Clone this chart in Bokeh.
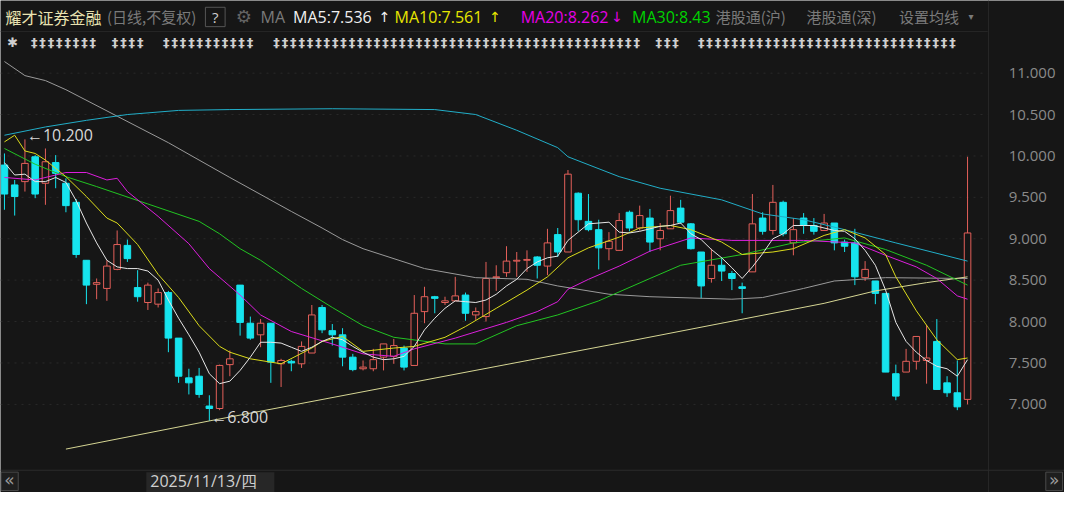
from bokeh.plotting import figure
from bokeh.models import (Label, Span, FixedTicker, PrintfTickFormatter, ColumnDataSource,
                          Range1d, LinearAxis)
from bokeh.core.properties import value
from bokeh.embed import file_html
from bokeh.resources import INLINE

# ---------------- data ----------------
stock_name = "耀才证券金融"
period_note = "(日线,不复权)"
date_text = "2025/11/13/四"
extra_tabs = ["港股通(沪)", "港股通(深)", "设置均线"]

opens = [9.89, 9.65, 9.69, 9.99, 9.67, 9.92, 9.67, 9.44, 8.74, 8.45,
         8.40, 8.63, 8.92, 8.41, 8.23, 8.21, 8.35, 7.80, 7.32, 7.34,
         6.98, 6.95, 7.48, 8.44, 7.98, 7.84, 7.98, 7.49, 7.52, 7.49,
         7.62, 8.17, 7.89, 7.84, 7.57, 7.43, 7.43, 7.57, 7.58, 7.68,
         7.47, 8.12, 8.30, 8.23, 8.25, 8.32, 8.08, 8.06, 8.53, 8.59,
         8.73, 8.74, 8.78, 8.67, 9.05, 8.84, 9.55, 9.21, 9.11, 8.88,
         8.86, 9.32, 9.13, 9.25, 9.00, 9.12, 9.37, 9.18, 8.84, 8.52,
         8.68, 8.58, 8.42, 8.60, 9.25, 9.10, 9.44, 8.95, 9.25, 9.16,
         9.10, 9.19, 8.96, 8.95, 8.53, 8.49, 8.34, 7.37, 7.39, 7.52,
         7.53, 7.76, 7.26, 7.14, 7.06]
highs = [10.03, 9.71, 10.20, 10.01, 10.09, 10.01, 9.73, 9.48, 8.74, 8.52,
         8.74, 9.10, 8.99, 8.62, 8.47, 8.40, 8.37, 7.80, 7.43, 7.44,
         7.11, 7.48, 7.65, 8.44, 8.06, 8.03, 7.98, 7.55, 7.54, 7.76,
         8.20, 8.20, 7.97, 7.92, 7.61, 7.53, 7.67, 7.73, 7.79, 7.71,
         8.32, 8.42, 8.31, 8.30, 8.54, 8.35, 8.17, 8.72, 8.68, 8.91,
         8.84, 8.86, 8.79, 9.12, 9.13, 9.83, 9.56, 9.54, 9.23, 9.08,
         9.31, 9.34, 9.40, 9.36, 9.19, 9.52, 9.47, 9.19, 8.84, 8.88,
         8.78, 8.61, 8.47, 9.54, 9.32, 9.65, 9.46, 9.25, 9.31, 9.25,
         9.30, 9.19, 8.99, 9.12, 8.73, 8.49, 8.34, 7.48, 7.67, 7.82,
         7.96, 8.03, 7.34, 7.53, 9.99]
lows = [9.35, 9.28, 9.57, 9.49, 9.41, 9.61, 9.32, 8.77, 8.21, 8.27,
        8.25, 8.62, 8.72, 8.24, 8.14, 8.17, 7.63, 7.26, 7.12, 7.08,
        6.80, 6.93, 7.34, 7.83, 7.78, 7.69, 7.26, 7.21, 7.40, 7.44,
        7.62, 7.86, 7.71, 7.46, 7.40, 7.41, 7.40, 7.41, 7.49, 7.41,
        7.47, 7.98, 8.10, 8.20, 8.25, 8.01, 8.02, 8.00, 8.37, 8.54,
        8.54, 8.60, 8.52, 8.56, 8.78, 8.84, 9.09, 9.09, 8.63, 8.74,
        8.86, 9.09, 9.10, 8.84, 8.86, 9.12, 9.18, 8.87, 8.28, 8.47,
        8.49, 8.38, 8.10, 8.60, 9.05, 9.05, 9.03, 8.80, 9.06, 9.05,
        9.10, 8.86, 8.84, 8.44, 8.49, 8.21, 7.39, 7.05, 7.39, 7.42,
        7.25, 7.18, 7.09, 6.93, 7.00]
closes = [9.54, 9.51, 9.91, 9.54, 9.93, 9.79, 9.40, 8.81, 8.44, 8.47,
          8.67, 8.93, 8.76, 8.30, 8.44, 8.35, 7.80, 7.34, 7.26, 7.12,
          6.95, 7.47, 7.55, 7.99, 7.80, 7.98, 7.51, 7.53, 7.50, 7.70,
          8.08, 7.90, 7.84, 7.57, 7.42, 7.45, 7.54, 7.73, 7.71, 7.45,
          8.10, 8.30, 8.28, 8.25, 8.31, 8.10, 8.12, 8.52, 8.54, 8.73,
          8.74, 8.75, 8.68, 8.95, 8.84, 9.78, 9.23, 9.11, 8.89, 8.97,
          9.22, 9.13, 9.28, 8.96, 9.10, 9.34, 9.20, 8.88, 8.43, 8.68,
          8.61, 8.52, 8.40, 9.18, 9.09, 9.44, 9.06, 9.11, 9.16, 9.09,
          9.19, 8.95, 8.91, 8.54, 8.63, 8.34, 7.39, 7.10, 7.52, 7.82,
          7.56, 7.18, 7.14, 6.97, 9.07]

# moving-average lines, read as (candle index, value) samples
ma5_val = [9.92, 9.77, 9.78, 9.69, 9.69, 9.74, 9.68, 9.46, 9.19, 8.95,
           8.74, 8.66, 8.64, 8.64, 8.61, 8.50, 8.26, 8.04, 7.84, 7.63,
           7.37, 7.25, 7.28, 7.41, 7.57, 7.75, 7.75, 7.74, 7.69, 7.64,
           7.69, 7.76, 7.81, 7.78, 7.70, 7.63, 7.57, 7.54, 7.55, 7.58,
           7.70, 7.90, 8.04, 8.16, 8.25, 8.24, 8.23, 8.26, 8.33, 8.43,
           8.51, 8.64, 8.72, 8.77, 8.79, 8.98, 9.08, 9.18, 9.19, 9.20,
           9.08, 9.07, 9.09, 9.12, 9.15, 9.16, 9.19, 9.06, 8.99, 8.87,
           8.77, 8.65, 8.52, 8.66, 8.82, 9.00, 9.06, 9.16, 9.16, 9.16,
           9.13, 9.10, 9.09, 9.00, 8.86, 8.68, 8.38, 7.99, 7.76, 7.63,
           7.53, 7.46, 7.43, 7.34, 7.54]
ma5_idx = list(range(len(ma5_val)))

ma10_idx = [0, 1, 2, 3, 4, 6, 8, 10, 11, 13, 15, 17, 19, 21, 22, 24, 27, 30, 31, 33,
            35, 38, 40, 43, 45, 48, 51, 53, 55, 57, 60, 62, 65, 67, 70, 72, 75, 77, 80,
            82, 84, 86, 87, 89, 91, 93, 94]
ma10_val = [10.17, 10.25, 10.06, 10.03, 9.95, 9.75, 9.51, 9.25, 9.19, 8.93, 8.57, 8.29,
            7.95, 7.70, 7.63, 7.55, 7.49, 7.68, 7.76, 7.82, 7.64, 7.68, 7.70, 7.81, 7.94,
            8.16, 8.38, 8.54, 8.77, 8.89, 9.02, 9.13, 9.16, 9.11, 8.96, 8.81, 8.84, 8.88,
            9.04, 9.11, 9.01, 8.81, 8.54, 8.13, 7.78, 7.54, 7.56]

ma20_idx = [0, 3, 6, 8, 10, 11, 12, 15, 18, 20, 23, 25, 28, 32, 35, 38, 40, 44, 49, 52,
            54, 55, 57, 60, 63, 67, 71, 78, 83, 86, 89, 91, 93, 94]
ma20_val = [9.74, 9.71, 9.80, 9.80, 9.71, 9.73, 9.57, 9.27, 8.94, 8.64, 8.32, 8.08, 7.88,
            7.73, 7.61, 7.58, 7.67, 7.80, 7.99, 8.12, 8.24, 8.39, 8.51, 8.67, 8.85, 9.01,
            8.98, 8.98, 8.95, 8.80, 8.66, 8.52, 8.31, 8.27]

ma30_idx = [0, 3, 6, 9, 14, 19, 21, 23, 25, 29, 32, 35, 38, 43, 46, 50, 54, 58, 63, 66,
            72, 77, 82, 86, 90, 94]
ma30_val = [10.09, 9.90, 9.75, 9.63, 9.42, 9.21, 9.06, 8.88, 8.74, 8.40, 8.17, 7.95, 7.81,
            7.73, 7.73, 7.95, 8.08, 8.25, 8.52, 8.68, 8.81, 8.95, 9.01, 8.87, 8.68, 8.44]

ma60_idx = [0, 4, 8, 12, 17, 22, 32, 42, 46, 50, 54, 55, 60, 64, 70, 74, 78, 82, 87, 94]
ma60_val = [10.25, 10.35, 10.43, 10.50, 10.55, 10.56, 10.57, 10.56, 10.50, 10.31, 10.10,
            9.99, 9.75, 9.61, 9.47, 9.30, 9.23, 9.11, 8.95, 8.73]

ma120_idx = [0, 2, 4, 6, 11, 16, 22, 28, 31, 33, 35, 41, 46, 51, 54, 59, 63, 71, 74, 78,
             81, 86, 94]
ma120_val = [11.14, 10.97, 10.91, 10.80, 10.48, 10.16, 9.74, 9.33, 9.13, 8.99, 8.88, 8.64,
             8.53, 8.51, 8.43, 8.33, 8.30, 8.27, 8.29, 8.40, 8.49, 8.53, 8.52]

ma250_idx = [6, 20, 40, 60, 80, 85, 90, 94]
ma250_val = [6.46, 6.80, 7.27, 7.74, 8.22, 8.37, 8.47, 8.54]

ma_names = ["MA5", "MA10", "MA20", "MA30"]
ma_last = [7.536, 7.561, 8.262, 8.43]
ma_arrow = ["↑", "↑", "↓", ""]

price_ticks = [7.0, 7.5, 8.0, 8.5, 9.0, 9.5, 10.0, 10.5, 11.0]

# ---------------- styles ----------------
BG = "#161616"
UP = "#e4605a"
DOWN = "#16e4ee"
C_MA5 = "#e6e6e6"
C_MA10 = "#dcdc1c"
C_MA20 = "#dc1edc"
C_MA30 = "#22c422"
C_MA60 = "#22aec8"
C_MA120 = "#9a9a9a"
C_MA250 = "#d6d694"
HEAD_MA = ["#f0f0f0", "#e6e600", "#e600e6", "#00d200"]
GREY_TXT = "#7a7a7a"

W, H = 1064, 492


def X(rx):  # layout helper: reference pixel -> candle-index units
    return (rx - 4) / 10.4


def Y(ry):  # layout helper: reference pixel -> price units
    return 11 - (ry - 75) / 85.5


p = figure(width=W, height=H, output_backend="svg", toolbar_location=None,
           x_range=Range1d(X(0), X(1080)), y_range=Range1d(Y(508), Y(0)),
           x_axis_location=None, y_axis_location=None,
           min_border_left=0, min_border_top=0, min_border_bottom=0, min_border_right=0,
           background_fill_color=BG, border_fill_color=BG, outline_line_color=None)
p.grid.visible = False

# price axis, drawn at the right edge of the chart area
yax = LinearAxis(fixed_location=X(1003), ticker=FixedTicker(ticks=price_ticks),
                 formatter=PrintfTickFormatter(format="%.3f"))
yax.major_label_text_color = "#8a8a8a"
yax.major_label_text_font = "Open Sans"
yax.major_label_text_font_size = "15px"
yax.major_label_standoff = 14
yax.axis_line_color = "#262626"
yax.major_tick_line_color = None
yax.minor_tick_line_color = None
p.add_layout(yax, "right")

# dotted price grid inside the chart area
p.segment(x0=[X(0)] * len(price_ticks), x1=[X(1002)] * len(price_ticks),
          y0=price_ticks, y1=price_ticks, line_color="#2a2a2a", line_width=1, line_dash="2 5")

# header separator and bottom line
p.segment(x0=[X(0)], x1=[X(1002)], y0=[Y(32)], y1=[Y(32)], line_color="#262626", line_width=1)
p.add_layout(Span(location=Y(485), dimension="width", line_color="#2c2c2c", line_width=1))

# ---------------- candles ----------------
n = len(opens)
up = [c >= o for o, c in zip(opens, closes)]
src = ColumnDataSource(dict(
    x=list(range(n)), high=highs, low=lows,
    top=[max(o, c) for o, c in zip(opens, closes)],
    bottom=[min(o, c) for o, c in zip(opens, closes)],
    line=[UP if u else DOWN for u in up],
    fill=[BG if u else DOWN for u in up],
))
p.segment(x0="x", y0="high", x1="x", y1="low", line_color="line", line_width=1, source=src)
p.vbar(x="x", width=0.64, top="top", bottom="bottom", fill_color="fill",
       line_color="line", line_width=1, source=src)

# ---------------- moving averages ----------------
for xs, ys, col in [(ma120_idx, ma120_val, C_MA120), (ma250_idx, ma250_val, C_MA250),
                    (ma60_idx, ma60_val, C_MA60), (ma30_idx, ma30_val, C_MA30),
                    (ma20_idx, ma20_val, C_MA20), (ma10_idx, ma10_val, C_MA10),
                    (ma5_idx, ma5_val, C_MA5)]:
    p.line(xs, ys, line_color=col, line_width=1)

# high / low marks
hi_i = max(range(n), key=lambda i: highs[i])
lo_i = min(range(n), key=lambda i: lows[i])
for xi, yv in [(hi_i, highs[hi_i]), (lo_i, lows[lo_i])]:
    p.add_layout(Label(x=xi, y=yv, text="←" + f"{yv:.3f}", x_offset=2, y_offset=4,
                       text_font="Open Sans", text_font_size="16px", text_color="#d8d8d8",
                       text_baseline="middle", text_align="left"))


# ---------------- header ----------------
def head(rx, txt, color, font="Noto Sans CJK SC", size="15px", ry=17, align="left"):
    p.add_layout(Label(x=X(rx), y=Y(ry), text=txt, text_color=color, text_font=font,
                       text_font_size=size, text_baseline="middle", text_align=align))


head(5, stock_name, "#e8e2b0", size="16px")
head(108, period_note, GREY_TXT, size="15px")
p.quad(left=X(208), right=X(228), top=Y(7), bottom=Y(27), fill_color=None,
       line_color="#555555", line_width=1)
head(218, "?", "#cfcfcf", font="Open Sans", size="15px", align="center")
head(247, "⚙", "#636363", font="DejaVu Sans", size="18px", align="center")
head(264, "MA", GREY_TXT, font="Open Sans", size="16px")
ma_x = [297, 400, 528, 641]
arrow_x = [384, 496, 620, 0]
for k in range(len(ma_names)):
    head(ma_x[k], f"{ma_names[k]}:{ma_last[k]}", HEAD_MA[k], font="Open Sans", size="16px")
    if ma_arrow[k]:
        head(arrow_x[k], ma_arrow[k], HEAD_MA[k], font="DejaVu Sans", size="14px")
for rx, t in zip([726, 818, 912], extra_tabs):
    head(rx, t, GREY_TXT, size="15px")
head(985, "▾", GREY_TXT, font="DejaVu Sans", size="10px", align="center")

# second header row (garbled glyph row)
gx, gy, gt = [X(12.5)], [Y(43)], ["✱"]
for start, cnt in [(30, 8), (112, 4), (164, 11), (276, 44), (664, 3), (707, 31)]:
    for k in range(cnt):
        gx.append(X(start + 4.25 + 8.5 * k))
        gy.append(Y(43))
        gt.append("‡")
p.text(x=gx, y=gy, text=gt, text_font=value("DejaVu Sans"), text_font_style="bold",
       text_font_size="13px", text_color="#cfcfcf", text_align="center", text_baseline="middle")

# ---------------- bottom bar ----------------
p.quad(left=X(0.5), right=X(18), top=Y(487), bottom=Y(506), fill_color="#1e1e1e",
       line_color="#4a4a4a", line_width=1)
head(9.2, "«", "#9a9a9a", font="DejaVu Sans", size="17px", ry=495.5, align="center")
p.quad(left=X(148), right=X(278), top=Y(487), bottom=Y(508), fill_color="#272727",
       line_color=None)
head(152, date_text, "#d0d0d0", font="Open Sans", size="16px", ry=496)
p.quad(left=X(1061), right=X(1078), top=Y(487), bottom=Y(506), fill_color="#1e1e1e",
       line_color="#4a4a4a", line_width=1)
head(1069.5, "»", "#9a9a9a", font="DejaVu Sans", size="17px", ry=495.5, align="center")

open("out.html", "w").write(file_html(p, INLINE))
